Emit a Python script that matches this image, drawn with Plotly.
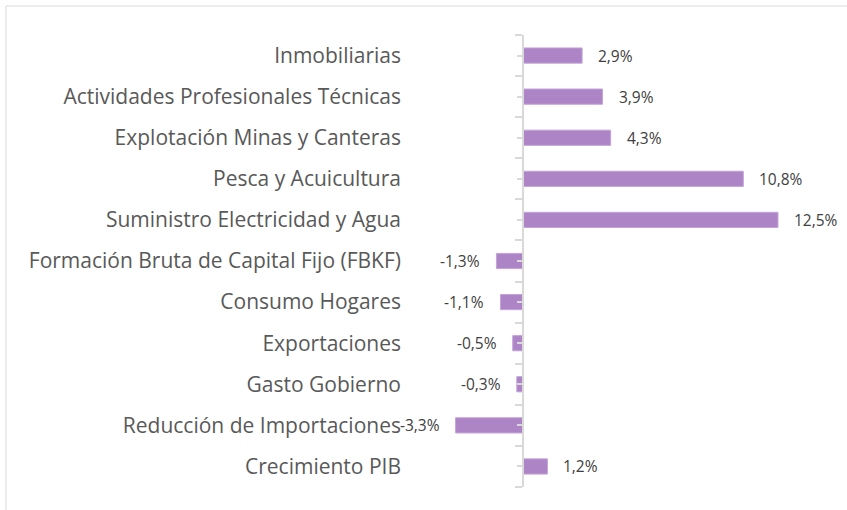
import plotly.graph_objects as go

categories = [
    "Inmobiliarias",
    "Actividades Profesionales Técnicas",
    "Explotación Minas y Canteras",
    "Pesca y Acuicultura",
    "Suministro Electricidad y Agua",
    "Formación Bruta de Capital Fijo (FBKF)",
    "Consumo Hogares",
    "Exportaciones",
    "Gasto Gobierno",
    "Reducción de Importaciones",
    "Crecimiento PIB",
]
values = [2.9, 3.9, 4.3, 10.8, 12.5, -1.3, -1.1, -0.5, -0.3, -3.3, 1.2]
value_labels = ["2,9%", "3,9%", "4,3%", "10,8%", "12,5%", "-1,3%", "-1,1%",
                "-0,5%", "-0,3%", "-3,3%", "1,2%"]

n = len(categories)
positions = list(range(n))

W, H = 847, 510
ML, MR, MT, MB = 405, 7, 35, 23
XMIN, XMAX = -5.78, 15.54

fig = go.Figure()
fig.add_trace(go.Bar(
    x=values, y=positions, orientation="h",
    width=0.37,
    marker=dict(color="#AD84C6", line=dict(color="#C4A3D8", width=1)),
    hoverinfo="skip",
))

annotations = []
for v, p, t in zip(values, positions, value_labels):
    annotations.append(dict(
        x=v, y=p, xref="x", yref="y", text=t, showarrow=False,
        xanchor="left" if v >= 0 else "right",
        xshift=14 if v >= 0 else -14,
        font=dict(family="Open Sans", size=15.5, color="#404040"),
    ))

fig.update_layout(
    width=W, height=H,
    margin=dict(l=ML, r=MR, t=MT, b=MB),
    paper_bgcolor="white", plot_bgcolor="white",
    showlegend=False,
    annotations=annotations,
    xaxis=dict(range=[XMIN, XMAX], showgrid=False, zeroline=False,
               showticklabels=False, showline=False, ticks=""),
    yaxis=dict(range=[n - 0.5, -0.5], tickvals=positions, ticktext=categories,
               showgrid=False, zeroline=False, showline=False, ticks="",
               ticklabelstandoff=3,
               tickfont=dict(family="Open Sans", size=21, color="#595959")),
    yaxis2=dict(overlaying="y", anchor="free",
                position=(0 - XMIN) / (XMAX - XMIN),
                range=[n - 0.5, -0.5],
                tickvals=[p - 0.5 for p in positions] + [n - 0.5],
                showticklabels=False, showgrid=False, zeroline=False,
                showline=True, linecolor="#D9D9D9", linewidth=1.5,
                ticks="outside", ticklen=7, tickcolor="#D9D9D9", tickwidth=1.5,
                minor=dict(tickvals=positions, ticks="outside", ticklen=5,
                           tickcolor="#D9D9D9", tickwidth=1.5),
                layer="above traces"),
    shapes=[dict(type="rect", xref="paper", yref="paper",
                 xanchor=0, yanchor=1, xsizemode="pixel", ysizemode="pixel",
                 x0=6 - ML, x1=W + 20 - ML, y0=MT - 6, y1=-(H + 20),
                 line=dict(color="#D9D9D9", width=1), fillcolor="rgba(0,0,0,0)",
                 layer="below")],
)
# invisible trace to register yaxis2
fig.add_trace(go.Scatter(x=[None], y=[None], yaxis="y2", showlegend=False))

fig.write_html("out.html",
               config={"displayModeBar": False},
               post_script="document.body.style.margin='0px';"
                           "document.body.style.overflow='hidden';")
